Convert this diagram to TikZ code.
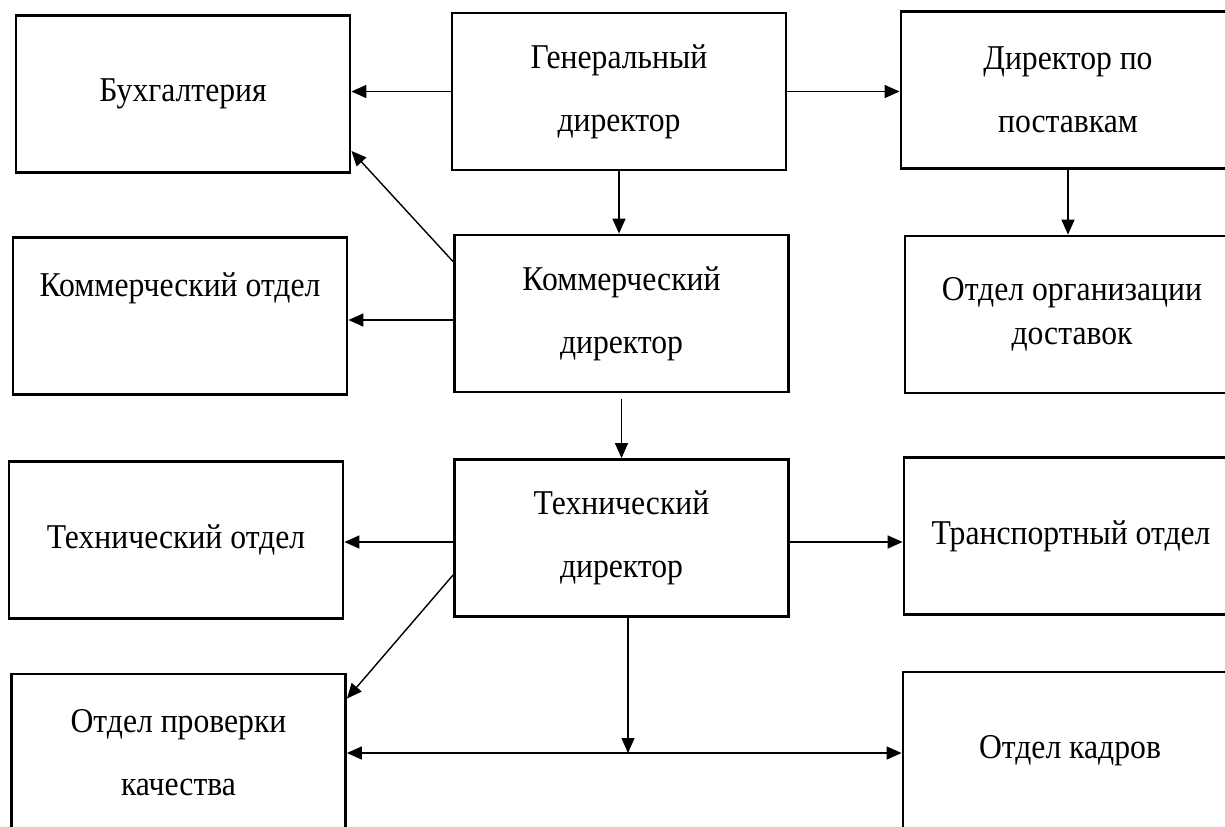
\documentclass[tikz,border=0pt]{standalone}
\usepackage{fontspec}
\setmainfont[FakeStretch=0.91]{Liberation Serif}
\usepackage{tikz}
\usetikzlibrary{
    arrows.meta,
    calc,
    positioning
}
\tikzset{
    unit/.style={draw, line width=1.6pt, minimum width=6.68cm, minimum height=3.14cm,
        align=center, font=\fontsize{19.8}{36}\selectfont},
    link/.style={-{Triangle[length=3mm, width=2.6mm]}, line width=0.8pt}
}

\begin{document}
\begin{tikzpicture}
                        \useasboundingbox (0, 0) rectangle (24.5, -16.54);

                        \node[unit] (buh) at (3.66, -1.88) {Бухгалтерия};
                        \node[unit] (gen) at (12.38, -1.83) {Генеральный\\ директор};
                        \node[unit] (post) at (21.36, -1.80) {Директор по\\ поставкам};
                        \node[unit] (komotd) at (3.60, -6.32) {Коммерческий отдел\\ \mbox{}};
                        \node[unit] (komdir) at (12.43, -6.27) {Коммерческий\\ директор};
                        \node[unit] (dost) at (21.44, -6.29) {Отдел организации\\[-0.38cm] доставок};
                        \node[unit] (tehotd) at (3.52, -10.80) {Технический отдел};
                        \node[unit] (tehdir) at (12.43, -10.76) {Технический\\ директор};
                        \node[unit] (trans) at (21.42, -10.72) {Транспортный отдел};
                        \node[unit] (kach) at (3.57, -15.05) {Отдел проверки\\ качества};
                        \node[unit] (kadr) at (21.40, -15.01) {Отдел кадров};
                        \coordinate (jun) at (12.56, -15.06);

                        \draw[link] (gen.west) -- (gen.west -| buh.east);
                        \draw[link] (gen.east) -- (gen.east -| post.west);
                        \draw[link] (gen.south) -- (gen.south |- komdir.north);
                        \draw[link] (post.south) -- (post.south |- dost.north);
                        \draw[link] ($(komdir.north west)+(0, -0.56)$) -- ($(buh.south east)+(0, 0.46)$);
                        \draw[link] ([yshift=-0.13cm]komdir.west) -- ([yshift=-0.13cm]komdir.west -| komotd.east);
                        \draw[link] ([yshift=-0.12cm]komdir.south) -- (komdir.south |- tehdir.north);
                        \draw[link] ([yshift=-0.08cm]tehdir.west) -- ([yshift=-0.08cm]tehdir.west -| tehotd.east);
                        \draw[link] ([yshift=-0.08cm]tehdir.east) -- ([yshift=-0.08cm]tehdir.east -| trans.west);
                        \draw[link] ([yshift=-0.74cm]tehdir.west) -- ($(kach.north east)+(0, -0.52)$);
                        \draw[link] (tehdir.south -| jun) -- (jun);
                        \draw[link] (jun) -- (jun -| kach.east);
                        \draw[link] (jun) -- (jun -| kadr.west);
                    \end{tikzpicture}
\end{document}
